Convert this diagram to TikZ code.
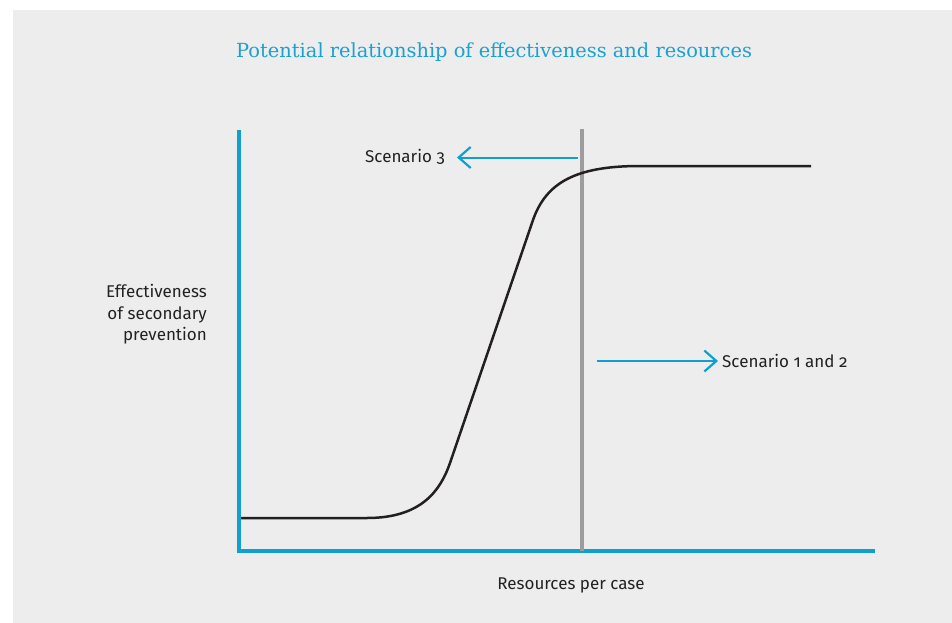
\documentclass[tikz,border=0pt]{standalone}
\usepackage{fontspec}
\setmainfont{Fira Sans}[Numbers=OldStyle]
\newfontfamily\titlefont{DejaVu Serif}
\usetikzlibrary{arrows.meta}
\definecolor{bg}{HTML}{EDEDED}
\definecolor{cblue}{HTML}{0FA0CF}
\definecolor{tblue}{HTML}{1BA0D0}
\definecolor{cgrey}{HTML}{9D9D9F}
\definecolor{ink}{HTML}{231F20}
\definecolor{txt}{HTML}{222222}
\tikzset{
  axis/.style={draw=cblue, line width=4pt},
  curve/.style={draw=ink, line width=2.5pt, line join=round},
  divider/.style={draw=cgrey, line width=3.5pt},
  scarrow/.style={draw=cblue, line width=2pt, -{Straight Barb[length=12pt, width=21pt, line width=2.2pt]}},
  lbl/.style={text=txt, font=\fontsize{17}{21.5}\selectfont, inner sep=0pt},
}
\begin{document}
\begin{tikzpicture}[x=1pt, y=-1pt]
\useasboundingbox (0,0) rectangle (952,623);
\fill[bg] (13,10) rectangle (952,623);
% title
\node[text=tblue, font=\titlefont\fontsize{19.4}{23}\selectfont, inner sep=0pt, anchor=west] (title) at (236,52) {Potential relationship of effectiveness and resources};
% axes
\coordinate (ytop) at (239,130);
\coordinate (origin) at (239,551);
\coordinate (xend) at (875,551);
\draw[axis] (ytop) -- (origin) -- (xend);
% divider
\coordinate (dtop) at (582,129);
\coordinate (dbot) at (582,551);
\draw[divider] (dtop) -- (dbot);
% curve
\draw[curve] (241,518) -- (367,518) .. controls (420,518) and (440,492) .. (450,463) -- (533,220) .. controls (546,183) and (575,166) .. (640,166) -- (811,166);
% scenario 3
\node[lbl, anchor=east] (s3) at (445,157) {Scenario 3};
\coordinate (s3start) at (578,157.5);
\coordinate (s3end) at (457,157.5);
\draw[scarrow] (s3start) -- (s3end);
% scenario 1 and 2
\node[lbl, anchor=west] (s12) at (722,361) {Scenario 1 and 2};
\coordinate (s12start) at (597,361);
\coordinate (s12end) at (718,361);
\draw[scarrow] (s12start) -- (s12end);
% y label
\node[lbl, anchor=east, align=right] (ylab) at (207,314.5) {Effectiveness\\of secondary\\prevention};
% x label
\node[lbl] (xlab) at (571,585) {Resources per case};
\end{tikzpicture}
\end{document}
